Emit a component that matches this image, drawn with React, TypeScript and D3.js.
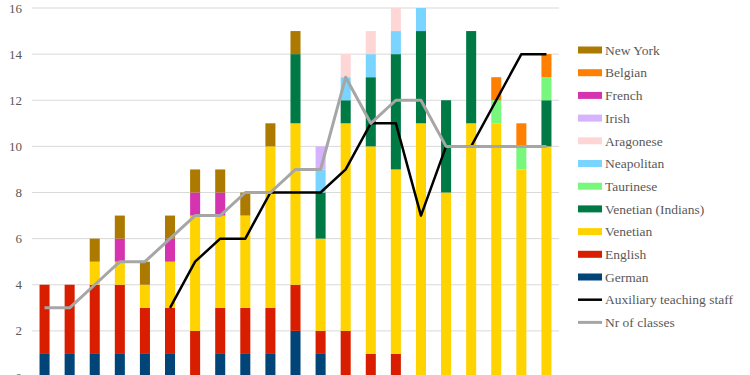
import React from "react";
import * as d3 from "d3";

const WIDTH = 750;
const HEIGHT = 375;
const MARGIN = { top: 8, left: 32, plotRight: 559, zeroY: 377 };

// one category per column (the axis labels sit below the visible frame)
const categories = [
  "1", "2", "3", "4", "5", "6", "7", "8", "9", "10", "11",
  "12", "13", "14", "15", "16", "17", "18", "19", "20", "21",
];

// stacked series, bottom to top
const german = [1, 1, 1, 1, 1, 1, 0, 1, 1, 1, 2, 1, 0, 0, 0, 0, 0, 0, 0, 0, 0];
const english = [3, 3, 3, 3, 2, 2, 2, 2, 2, 2, 2, 1, 2, 1, 1, 0, 0, 0, 0, 0, 0];
const venetian = [0, 0, 1, 1, 1, 2, 5, 4, 4, 7, 7, 4, 9, 9, 8, 11, 8, 11, 11, 9, 10];
const venetianIndians = [0, 0, 0, 0, 0, 0, 0, 0, 0, 0, 3, 2, 1, 3, 5, 4, 4, 4, 0, 0, 2];
const taurinese = [0, 0, 0, 0, 0, 0, 0, 0, 0, 0, 0, 0, 0, 0, 0, 0, 0, 0, 1, 1, 1];
const neapolitan = [0, 0, 0, 0, 0, 0, 0, 0, 0, 0, 0, 1, 1, 1, 1, 1, 0, 0, 0, 0, 0];
const aragonese = [0, 0, 0, 0, 0, 0, 0, 0, 0, 0, 0, 0, 1, 1, 1, 0, 0, 0, 0, 0, 0];
const irish = [0, 0, 0, 0, 0, 0, 0, 0, 0, 0, 0, 1, 0, 0, 0, 0, 0, 0, 0, 0, 0];
const french = [0, 0, 0, 1, 0, 1, 1, 1, 0, 0, 0, 0, 0, 0, 0, 0, 0, 0, 0, 0, 0];
const belgian = [0, 0, 0, 0, 0, 0, 0, 0, 0, 0, 0, 0, 0, 0, 0, 0, 0, 0, 1, 1, 1];
const newYork = [0, 0, 1, 1, 1, 1, 1, 1, 1, 1, 1, 0, 0, 0, 0, 0, 0, 0, 0, 0, 0];

// lines
const auxiliaryStaff = [null, null, null, null, null, 3, 5, 6, 6, 8, 8, 8, 9, 11, 11, 7, 10, 10, 12, 14, 14];
const nrOfClasses = [3, 3, 4, 5, 5, 6, 7, 7, 8, 8, 9, 9, 13, 11, 12, 12, 10, 10, 10, 10, 10];

const yTicks = [0, 2, 4, 6, 8, 10, 12, 14, 16];

const seriesDefs = [
  { key: "German", values: german, color: "#004478" },
  { key: "English", values: english, color: "#D91E00" },
  { key: "Venetian", values: venetian, color: "#FFD300" },
  { key: "Venetian (Indians)", values: venetianIndians, color: "#007A45" },
  { key: "Taurinese", values: taurinese, color: "#77F77B" },
  { key: "Neapolitan", values: neapolitan, color: "#79D5FF" },
  { key: "Aragonese", values: aragonese, color: "#FFD6D6" },
  { key: "Irish", values: irish, color: "#D5B3FF" },
  { key: "French", values: french, color: "#D633B0" },
  { key: "Belgian", values: belgian, color: "#FF7F00" },
  { key: "New York", values: newYork, color: "#AD7A00" },
];

const lineDefs = [
  { key: "Auxiliary teaching staff", values: auxiliaryStaff, color: "#000000", width: 2.5 },
  { key: "Nr of classes", values: nrOfClasses, color: "#A6A6A6", width: 3 },
];

const FONT = "Liberation Serif, DejaVu Serif, Times, serif";
const TEXT = "#595959";

export default function App() {
  const table = categories.map((c, i) => {
    const row: Record<string, any> = { cat: c };
    seriesDefs.forEach((s) => (row[s.key] = s.values[i]));
    return row;
  });
  const stacked = d3.stack<any>().keys(seriesDefs.map((s) => s.key))(table);

  const x = d3
    .scaleBand()
    .domain(categories)
    .range([MARGIN.left, MARGIN.plotRight])
    .paddingInner(0.6)
    .paddingOuter(0.3);
  const y = d3.scaleLinear().domain([0, 16]).range([MARGIN.zeroY, MARGIN.top]);

  const cx = (c: string) => (x(c) as number) + x.bandwidth() / 2;

  const lineGen = d3
    .line<number | null>()
    .defined((d) => d !== null)
    .x((_, i) => cx(categories[i]))
    .y((d) => y(d as number));

  const legendItems = [
    ...[...seriesDefs].reverse().map((s) => ({ key: s.key, color: s.color, line: false })),
    ...lineDefs.map((l) => ({ key: l.key, color: l.color, line: true })),
  ];

  return (
    <div style={{ position: "absolute", left: 0, top: 0, fontFamily: FONT }}>
      <svg width={WIDTH} height={HEIGHT} style={{ display: "block", background: "#fff" }} fontFamily={FONT}>
        {/* grid + y labels */}
        <g>
          {yTicks.map((t) => (
            <g key={t}>
              <line
                x1={MARGIN.left}
                x2={MARGIN.plotRight}
                y1={y(t)}
                y2={y(t)}
                stroke="#d9d9d9"
                strokeWidth={1}
              />
              <text x={22} y={y(t)} dy="0.35em" textAnchor="end" fontSize={13} fill={TEXT}>
                {t}
              </text>
            </g>
          ))}
        </g>
        {/* bars */}
        {stacked.map((layer, li) => (
          <g key={layer.key} fill={seriesDefs[li].color}>
            {layer.map((d, i) =>
              d[1] - d[0] > 0 ? (
                <rect
                  key={i}
                  x={x(categories[i])}
                  width={x.bandwidth()}
                  y={y(d[1])}
                  height={y(d[0]) - y(d[1])}
                />
              ) : null
            )}
          </g>
        ))}
        {/* lines */}
        {lineDefs.map((l) => (
          <path
            key={l.key}
            d={lineGen(l.values) || ""}
            fill="none"
            stroke={l.color}
            strokeWidth={l.width}
            strokeLinejoin="round"
          />
        ))}
        {/* legend */}
        <g transform="translate(578,50)">
          {legendItems.map((item, i) => (
            <g key={item.key} transform={`translate(0,${i * 22.7})`}>
              {item.line ? (
                <line x1={0} x2={24} y1={0} y2={0} stroke={item.color} strokeWidth={item.key === "Nr of classes" ? 3 : 2.5} />
              ) : (
                <rect x={0} y={-3.5} width={24} height={7} fill={item.color} />
              )}
              <text x={27} y={0} dy="0.35em" fontSize={13.5} fill={TEXT}>
                {item.key}
              </text>
            </g>
          ))}
        </g>
      </svg>
    </div>
  );
}
